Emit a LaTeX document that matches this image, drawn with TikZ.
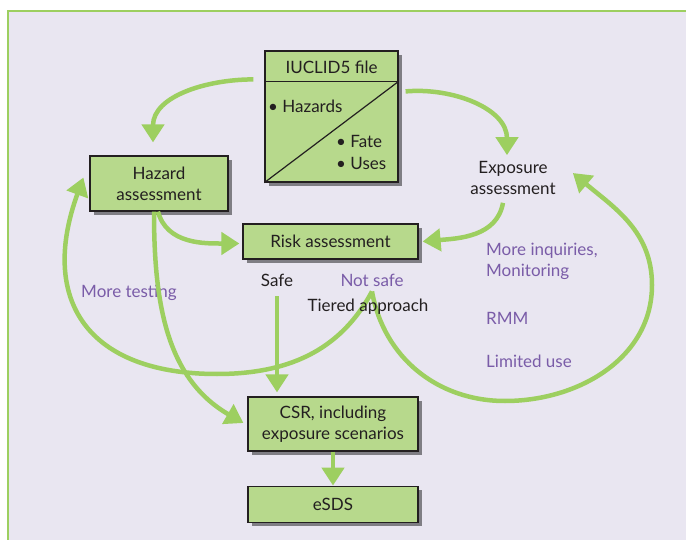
\documentclass[tikz,border=0pt]{standalone}
\usepackage{fontspec}
\setmainfont{Lato}
\usetikzlibrary{positioning,arrows.meta,calc,shadows}
\definecolor{boxGreen}{HTML}{B7D98C}
\definecolor{flowGreen}{HTML}{9DCF60}
\definecolor{notePurple}{HTML}{7A5CA8}
\definecolor{pageLav}{HTML}{E9E6F1}
\definecolor{inkBlack}{HTML}{231F20}

\begin{document}
\begin{tikzpicture}[x=1pt, y=1pt, >={Triangle[length=18pt,width=22pt]},
    font=\fontsize{17}{20}\selectfont,
    stage/.style={draw=inkBlack, line width=1.2pt, fill=boxGreen, text=inkBlack, align=center, inner sep=0pt,
      drop shadow={shadow xshift=4pt, shadow yshift=-4pt, opacity=0.45, fill=black}},
    flow/.style={->, flowGreen, line width=4.5pt},
    note/.style={text=notePurple, align=left, inner sep=0pt},
    plain/.style={text=inkBlack, align=center, inner sep=0pt}]
  \useasboundingbox (0,0) rectangle (686,-540);
  \fill[pageLav] (8,-11) rectangle (686,-540);
  \draw[flowGreen, line width=1.5pt] (8,-540) -- (8,-11) -- (686,-11);

  % dossier box
  \node[stage, minimum width=133pt, minimum height=131pt] (iuclid) at (331.5,-116.5) {};
  \draw[inkBlack, line width=1.2pt] ([yshift=-31pt]iuclid.north west) -- ([yshift=-31pt]iuclid.north east) coordinate (hdR);
  \draw[inkBlack, line width=1.2pt] (iuclid.south west) -- (hdR);
  \node[plain] (iutitle) at (331.5,-67) {IUCLID5 file};
  \node[plain, anchor=west] (hazards) at (268,-106) {• Hazards};
  \node[plain, anchor=west, align=left] (fateuses) at (336,-152) {• Fate\\[2pt]• Uses};

  % stages
  \node[stage, minimum width=138pt, minimum height=55pt] (hazard) at (159,-183.5) {Hazard\\[1pt]assessment};
  \node[stage, minimum width=175pt, minimum height=35pt] (risk) at (330.5,-241.5) {Risk assessment};
  \node[stage, minimum width=170pt, minimum height=54pt] (csr) at (333,-424) {CSR, including\\[1pt]exposure scenarios};
  \node[stage, minimum width=170pt, minimum height=36pt, below=34pt of csr] (esds) {eSDS};
  \node[plain] (expo) at (513,-178) {Exposure\\[1pt]assessment};

  % labels
  \node[plain] (safe) at (277,-280) {Safe};
  \node[note] (notsafe) at (372,-280) {Not safe};
  \node[note] (moretest) at (129,-293) {More testing};
  \node[note, anchor=west] (inquiries) at (486,-261.5) {More inquiries,\\[1pt]Monitoring};
  \node[note, anchor=west] (rmm) at (486,-318) {RMM};
  \node[note, anchor=west] (limited) at (486,-361) {Limited use};

  % flows
  \draw[flow] ([xshift=-11pt,yshift=-29pt]iuclid.north west) to[out=180,in=90] ([xshift=-6pt,yshift=13pt]hazard.north);
  \draw[flow] ([xshift=7pt,yshift=-41pt]iuclid.north east) to[out=5,in=90] ([xshift=-6pt,yshift=6pt]expo.north);
  \draw[flow] ([xshift=-1pt]hazard.south) to[out=-75,in=180] ([xshift=-3pt,yshift=-2pt]risk.west);
  \draw[flow] ([xshift=-10pt,yshift=-8pt]expo.south) to[out=-100,in=5] ([xshift=4pt]risk.east);
  \draw[flow] ([yshift=-10pt]safe.south) -- ($(safe.south |- csr.north)+(0,4pt)$);
  \draw[flow] ([xshift=-5pt]hazard.south) to[out=-90,in=150] ([xshift=-4pt,yshift=1pt]csr.west);
  \coordinate (lowL) at (217,-374);
  \coordinate (lowR) at (505,-401);
  \coordinate (sideR) at (652,-285);
  \draw[flow] ([yshift=-5pt]notsafe.south) to[out=-118,in=0] (lowL)
    to[out=180,in=-110,looseness=1.4] ([xshift=-6pt,yshift=6pt]hazard.west);
  \draw[flow] ([yshift=-5pt]notsafe.south) to[out=-80,in=180] (lowR)
    to[out=0,in=-90] (sideR) to[out=90,in=-40] ([xshift=17pt,yshift=5pt]expo.east);
  \draw[flow] (csr.south) -- (esds.north);

  \node[plain] (tiered) at (368,-307) {Tiered approach};
\end{tikzpicture}
\end{document}
